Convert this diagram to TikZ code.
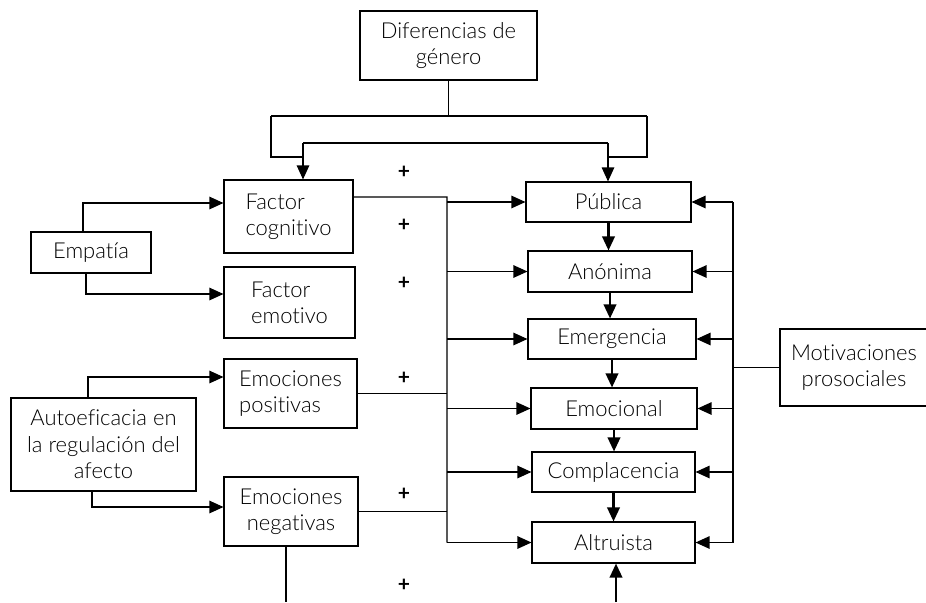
\documentclass[tikz,border=0pt]{standalone}
\usepackage{fontspec}
\setmainfont{Lato}[UprightFont=* Light,BoldFont=* Bold,Ligatures=NoCommon]
\usetikzlibrary{arrows.meta}

\begin{document}
\begin{tikzpicture}[x=0.02cm,y=-0.02cm,line width=0.65pt,
		box/.style={draw,inner sep=2pt,align=center,font=\fontsize{12.5}{15}\selectfont},
		arr/.style={-{Triangle[length=0.28cm,width=0.25cm]}},
		thickarr/.style={arr,line width=1.2pt},
		plus/.style={font=\bfseries\fontsize{12}{14}\selectfont}]
				\useasboundingbox (0,0) rectangle (926,602);
				% boxes
				\node[box,minimum width=3.54cm,minimum height=1.38cm] (dif) at (448.5,45.5) {Diferencias de\\género};
				\node[box,minimum width=2.4cm,minimum height=0.82cm] (emp) at (91,252.5) {Empatía};
				\node[box,minimum width=2.58cm,minimum height=1.46cm,align=left] (fcog) at (288.5,216.5) {Factor\\cognitivo};
				\node[box,minimum width=2.62cm,minimum height=1.42cm,align=left] (femo) at (289.5,302.5) {Factor\\emotivo};
				\node[box,minimum width=2.66cm,minimum height=1.38cm,align=left] (epos) at (290.5,393.5) {Emociones\\positivas};
				\node[box,minimum width=3.7cm,minimum height=1.86cm] (auto) at (103.5,444.5) {Autoeficacia en\\la regulación del\\afecto};
				\node[box,minimum width=2.68cm,minimum height=1.38cm] (eneg) at (291,511.5) {Emociones\\negativas};
				\node[box,minimum width=3.3cm,minimum height=0.8cm] (pub) at (608.5,202) {Pública};
				\node[box,minimum width=3.28cm,minimum height=0.82cm] (ano) at (610,271.5) {Anónima};
				\node[box,minimum width=3.36cm,minimum height=0.8cm] (emer) at (612,339) {Emergencia};
				\node[box,minimum width=3.32cm,minimum height=0.82cm] (emoc) at (614,408.5) {Emocional};
				\node[box,minimum width=3.26cm,minimum height=0.8cm] (comp) at (613.5,472) {Complacencia};
				\node[box,minimum width=3.26cm,minimum height=0.82cm] (alt) at (613.5,542.5) {Altruista};
				\node[box,minimum width=2.96cm,minimum height=1.54cm] (mot) at (854,367.5) {Motivaciones\\prosociales};
				% signs
				\foreach \py [count=\i] in {172,225,283,378,494,585}
					\node[plus] (p\i) at (404,\py) {+};
				% gender bracket
				\coordinate (gl) at (271,116);
				\coordinate (gr) at (647,116);
				\coordinate (al) at (303,143);
				\coordinate (ar) at (608,143);
				\draw (dif.south) -- (dif.south |- gl);
				\draw (gl) -- (gr);
				\draw (gl) -- ++(0,41) -| (al);
				\draw (gr) -- ++(0,41) -| (ar);
				\draw (al) -- (ar);
				\draw[arr] (al) -- (al |- fcog.north);
				\draw[arr] (ar) -- (ar |- pub.north);
				% left inputs
				\draw[arr] ([xshift=-0.16cm]emp.north) |- ([yshift=0.27cm]fcog.west);
				\draw[arr] ([xshift=-0.1cm]emp.south) |- ([yshift=0.17cm]femo.west);
				\draw[arr] ([xshift=-0.31cm]auto.north) |- ([yshift=0.33cm]epos.west);
				\draw[arr] ([xshift=-0.23cm]auto.south) |- ([yshift=0.09cm]eneg.west);
				% left bus
				\coordinate (bt) at (447,197);
				\draw ([yshift=0.39cm]fcog.east) -- (bt) -- (bt |- alt.west);
				\draw (epos.east) -- (epos.east -| bt);
				\draw (eneg.east) -- (eneg.east -| bt);
				\foreach \b in {pub,ano,emer,emoc,comp,alt}
					\draw[arr] (bt |- \b.west) -- (\b.west);
				% right bus
				\coordinate (rt) at (733,200);
				\draw (rt |- pub.east) -- (rt |- alt.east);
				\draw (mot) -- (mot -| rt);
				\foreach \b in {pub,ano,emer,emoc,comp,alt}
					\draw[arr] (rt |- \b.east) -- (\b.east);
				% chain
				\foreach \u/\v in {pub/ano,ano/emer,emer/emoc,emoc/comp,comp/alt}
					\draw[thickarr] (\u.south) -- (\u.south |- \v.north);
				\coordinate (ab) at (616,602);
				\coordinate (nb) at (286,602);
				\draw[thickarr] (ab) -- (ab |- alt.south);
				\draw (eneg.south -| nb) -- (nb);
			\end{tikzpicture}
\end{document}
